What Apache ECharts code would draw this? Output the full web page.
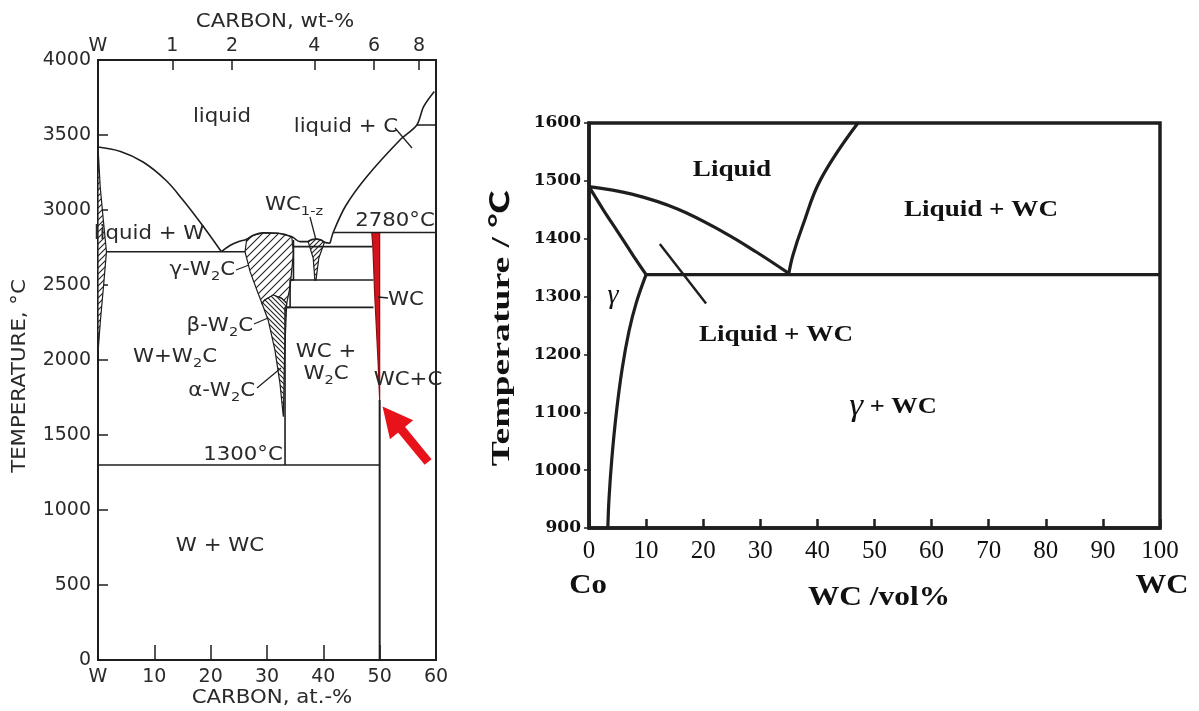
<!DOCTYPE html>
<html>
<head>
<meta charset="utf-8">
<title>W-C and Co-WC phase diagrams</title>
<script src="https://cdn.jsdelivr.net/npm/echarts@6/dist/echarts.min.js"></script>
<style>
  html, body { margin: 0; padding: 0; background: #fff; }
  #chart { width: 1199px; height: 711px; }
</style>
</head>
<body>
<div id="chart"></div>
<script>
// ---------- left: W-C diagram (x = at.-% C, y = °C) ----------
const wtLabels = ['W', '1', '2', '4', '6', '8'];
const wtTickAt = [0, 13.2, 23.8, 38.4, 49.0, 57.0]; // at.-% position of each wt-% tick

const wLiquidus = [[0, 3420], [4, 3390], [8, 3320], [12, 3200], [15, 3070], [18.5, 2900], [21.9, 2722]];
const eutecticW = [[1.5, 2722], [26.1, 2722]];
const w2cDome = [[21.9, 2722], [23.5, 2765], [25, 2790], [26.4, 2805], [27.5, 2830], [29.3, 2848], [32, 2845], [34.4, 2822], [35.9, 2789], [37.3, 2789]];
const wc1zDome = [[37.3, 2789], [38, 2803], [38.8, 2806], [39.6, 2800], [40.2, 2785], [41.2, 2778]];
const cLiquidus = [[41.2, 2778], [41.8, 2855], [44, 3030], [47.7, 3222], [53.6, 3467], [56.6, 3567], [57.8, 3689], [59.7, 3790]];
const line2780 = [[41.8, 2850], [60, 2850]];
const line3567 = [[56.6, 3567], [60, 3567]];
const boxSteps = [[34.7, 2800], [34.7, 2533], [34.1, 2533], [34.1, 2351], [33.2, 2351], [33.2, 1300]];
const box2756 = [[34.7, 2756], [48.7, 2756]];
const box2533 = [[34.1, 2533], [48.9, 2533]];
const box2351 = [[33.2, 2351], [48.9, 2351]];
const line1300 = [[0, 1300], [50, 1300]];
const wcLine = [[50, 0], [50, 1733]];

const wSolid = [[0, 3420], [0.4, 3150], [0.9, 2950], [1.5, 2722], [1.0, 2500], [0.4, 2250], [0, 2050]];
const w2cGamma = [[26.1, 2722], [26.4, 2805], [27.5, 2830], [29.3, 2848], [32, 2845], [34.4, 2822], [34.7, 2711], [34.1, 2489], [33.5, 2378], [32.6, 2411], [31.1, 2433], [29.6, 2400], [29.1, 2378], [28.2, 2467], [27.0, 2589]];
const w2cBeta = [[29.1, 2378], [29.6, 2400], [31.1, 2433], [32.6, 2411], [33.5, 2378], [33.3, 2200], [33.1, 2000], [33.0, 1800], [32.9, 1622], [32.3, 1844], [31.4, 2067], [30.2, 2267]];
const wc1zRegion = [[37.3, 2789], [38, 2803], [38.8, 2806], [39.6, 2800], [40.2, 2785], [39.2, 2680], [38.7, 2533], [38.5, 2533], [38.2, 2680]];
const wcRegion = [[48.6, 2850], [50, 2850], [50, 1733], [49.7, 2000], [49.1, 2450], [48.8, 2750]];
const arrowPath = [[58.6, 1320], [52.2, 1613]];

// ---------- right: Co-WC diagram (x = vol.-% WC, y = °C) ----------
const coLiquidus = [[0, 1490], [7.5, 1477], [15.6, 1451], [23.6, 1411], [29.3, 1377], [35, 1340]];
const wcLiquidus = [[35, 1340], [35.7, 1371], [37.4, 1422], [40.6, 1503], [47.1, 1600]];
const gammaSolidus = [[0, 1490], [2.5, 1450], [5.1, 1411], [7.8, 1370], [10, 1338]];
const gammaSolvus = [[10, 1338], [8.3, 1290], [7.0, 1240], [5.8, 1175], [4.8, 1100], [4.0, 1020], [3.5, 950], [3.3, 900]];
const eutecticCo = [[10, 1338], [100, 1338]];
const leader = [[12.4, 1391], [20.5, 1288]];

const INK = '#1e1e1e';
const sansL = 'DejaVu Sans';
const serifR = 'Liberation Serif';

function hatch(step, back) {
  const c = document.createElement('canvas');
  c.width = c.height = step;
  const g = c.getContext('2d');
  g.fillStyle = '#fff';
  g.fillRect(0, 0, step, step);
  g.strokeStyle = '#222';
  g.lineWidth = 1.1;
  g.beginPath();
  if (!back) {
    g.moveTo(-1, step + 1); g.lineTo(step + 1, -1);
    g.moveTo(-1, 1); g.lineTo(1, -1);
    g.moveTo(step - 1, step + 1); g.lineTo(step + 1, step - 1);
  } else {
    g.moveTo(-1, -1); g.lineTo(step + 1, step + 1);
    g.moveTo(step - 1, -1); g.lineTo(step + 1, 1);
    g.moveTo(-1, step - 1); g.lineTo(1, step + 1);
  }
  g.stroke();
  return { image: c, repeat: 'repeat' };
}

function area(points, fill, stroke, xi, yi) {
  return {
    type: 'custom', xAxisIndex: xi, yAxisIndex: yi, silent: true, z: 2,
    data: [points[0]],
    renderItem: (params, api) => ({
      type: 'polygon',
      shape: { points: points.map(p => api.coord(p)) },
      style: { fill: fill, stroke: stroke, lineWidth: 1.2 }
    })
  };
}

function path(data, xi, yi, width, smooth) {
  return {
    type: 'line', xAxisIndex: xi, yAxisIndex: yi, data: data,
    showSymbol: false, silent: true, z: 3, smooth: smooth || false,
    lineStyle: { color: INK, width: width }
  };
}

// text helpers for the annotations
function lt(x, y, text, align) {
  return {
    type: 'text', x: x, y: y, z: 10, scaleX: 1.12,
    style: {
      text: text, fill: '#2a2a2a', align: align || 'center', verticalAlign: 'middle',
      rich: {
        a: { fontFamily: sansL, fontSize: 19, lineHeight: 26, verticalAlign: 'middle', fill: '#2a2a2a' },
        s: { fontFamily: sansL, fontSize: 13, lineHeight: 14, verticalAlign: 'bottom', fill: '#2a2a2a' }
      }
    }
  };
}
function rt(x, y, text, size, sx, rot) {
  return {
    type: 'text', x: x, y: y, z: 10, scaleX: sx || 1, rotation: rot || 0,
    style: {
      text: text, fill: '#111', align: 'center', verticalAlign: 'middle',
      rich: {
        b: { fontFamily: serifR + ', Noto Sans CJK SC', fontWeight: 'bold', fontSize: size, fill: '#111' },
        g: { fontFamily: serifR, fontStyle: 'italic', fontSize: size + 8, fill: '#111' }
      }
    }
  };
}
function seg(x1, y1, x2, y2) {
  return { type: 'line', z: 10, shape: { x1: x1, y1: y1, x2: x2, y2: y2 }, style: { stroke: '#222', lineWidth: 1.3 } };
}

const chart = echarts.init(document.getElementById('chart'));

const leftLabel = { fontFamily: sansL, fontSize: 19, color: '#2a2a2a' };
const rightTick = { fontFamily: serifR, fontSize: 25, color: '#111' };

const option = {
  animation: false,
  backgroundColor: '#fff',
  grid: [
    { left: 98, top: 60, width: 338, height: 600, show: true, borderColor: INK, borderWidth: 2 },
    { left: 589, top: 123, width: 571, height: 405, show: true, borderColor: INK, borderWidth: 3.5 }
  ],
  xAxis: [
    {
      gridIndex: 0, type: 'value', min: 0, max: 60, interval: 10, position: 'bottom',
      axisLine: { lineStyle: { color: INK, width: 2 } },
      axisTick: { inside: true, length: 15, lineStyle: { color: INK, width: 1.5 } },
      axisLabel: Object.assign({ margin: 8, formatter: v => (v === 0 ? 'W' : String(v)) }, leftLabel),
      splitLine: { show: false }
    },
    {
      gridIndex: 0, type: 'value', min: 0, max: 60, position: 'top',
      axisLine: { lineStyle: { color: INK, width: 2 } },
      axisTick: { inside: true, length: 10, customValues: wtTickAt.slice(1), lineStyle: { color: INK, width: 1.5 } },
      axisLabel: Object.assign({
        margin: 4, customValues: wtTickAt,
        formatter: v => wtLabels[wtTickAt.indexOf(v)]
      }, leftLabel),
      splitLine: { show: false }
    },
    {
      gridIndex: 1, type: 'value', min: 0, max: 100, interval: 10,
      axisLine: { lineStyle: { color: INK, width: 3.5 } },
      axisTick: { inside: true, length: 9, lineStyle: { color: INK, width: 2.5 } },
      axisLabel: Object.assign({ margin: 11, showMinLabel: true, showMaxLabel: true, formatter: v => String(v) }, rightTick),
      splitLine: { show: false }
    }
  ],
  yAxis: [
    {
      gridIndex: 0, type: 'value', min: 0, max: 4000, interval: 500,
      axisLine: { lineStyle: { color: INK, width: 2 } },
      axisTick: { inside: true, length: 10, lineStyle: { color: INK, width: 1.5 } },
      axisLabel: Object.assign({ margin: 7, formatter: v => String(v) }, leftLabel),
      splitLine: { show: false }
    },
    {
      gridIndex: 1, type: 'value', min: 900, max: 1600, interval: 100,
      axisLine: { lineStyle: { color: INK, width: 3.5 } },
      axisTick: { length: 5, lineStyle: { color: INK, width: 1.5 } },
      axisLabel: { margin: 8, fontFamily: 'DejaVu Serif', fontWeight: 'bold', fontSize: 17, color: '#111', formatter: v => String(v) },
      splitLine: { show: false }
    }
  ],
  series: [
    // left diagram regions
    area(wSolid, hatch(6, false), INK, 0, 0),
    area(w2cGamma, hatch(8, false), INK, 0, 0),
    area(w2cBeta, hatch(5, true), INK, 0, 0),
    area(wc1zRegion, hatch(5, false), INK, 0, 0),
    area(wcRegion, '#d3131c', '#8a0e12', 0, 0),
    // left diagram lines
    path(wLiquidus, 0, 0, 1.6, 0.4),
    path(eutecticW, 0, 0, 1.6),
    path(w2cDome, 0, 0, 1.6, 0.4),
    path(wc1zDome, 0, 0, 1.6, 0.4),
    path(cLiquidus, 0, 0, 1.6, 0.3),
    path(line2780, 0, 0, 1.6),
    path(line3567, 0, 0, 1.6),
    path(boxSteps, 0, 0, 1.6),
    path(box2756, 0, 0, 1.6),
    path(box2533, 0, 0, 1.6),
    path(box2351, 0, 0, 1.6),
    path(line1300, 0, 0, 1.6),
    path(wcLine, 0, 0, 2),
    {
      type: 'lines', coordinateSystem: 'cartesian2d', xAxisIndex: 0, yAxisIndex: 0, z: 5,
      symbol: ['none', 'triangle'], symbolSize: 30, silent: true,
      lineStyle: { color: '#e8121b', width: 9, opacity: 1 },
      data: [{ coords: arrowPath }]
    },
    // right diagram lines
    path(coLiquidus, 2, 1, 3.2, 0.4),
    path(wcLiquidus, 2, 1, 3.2, 0.4),
    path(gammaSolidus, 2, 1, 3.2, 0.3),
    path(gammaSolvus, 2, 1, 3.2, 0.4),
    path(eutecticCo, 2, 1, 3.2),
    path(leader, 2, 1, 2.4)
  ],
  graphic: [
    // left diagram text
    lt(275, 22, '{a|CARBON, wt-%}'),
    lt(272, 698, '{a|CARBON, at.-%}'),
    Object.assign(lt(20, 376, '{a|TEMPERATURE, °C}'), { rotation: Math.PI / 2 }),
    lt(222, 117, '{a|liquid}'),
    lt(346, 127, '{a|liquid + C}'),
    lt(294, 205, '{a|WC}{s|1-z}'),
    lt(395, 221, '{a|2780°C}'),
    lt(149, 234, '{a|liquid + W}'),
    lt(235, 270, '{a|γ-W}{s|2}{a|C}', 'right'),
    lt(253, 326, '{a|β-W}{s|2}{a|C}', 'right'),
    lt(175, 357, '{a|W+W}{s|2}{a|C}'),
    lt(255, 391, '{a|α-W}{s|2}{a|C}', 'right'),
    lt(326, 352, '{a|WC +}'),
    lt(326, 374, '{a|W}{s|2}{a|C}'),
    lt(388, 300, '{a|WC}', 'left'),
    lt(408, 380, '{a|WC+C}'),
    lt(243, 455, '{a|1300°C}'),
    lt(220, 546, '{a|W + WC}'),
    seg(395, 128, 412, 148),
    seg(310, 217, 316, 240),
    seg(236, 270, 249, 265),
    seg(254, 324, 268, 318),
    seg(257, 388, 281, 368),
    seg(378, 297, 388, 298),
    // right diagram text
    rt(502, 328, '{b|Temperature / ℃}', 26, 1.45, Math.PI / 2),
    rt(732, 170, '{b|Liquid}', 24, 1.13),
    rt(981, 210, '{b|Liquid + WC}', 24, 1.13),
    rt(776, 335, '{b|Liquid + WC}', 24, 1.13),
    rt(613, 296, '{g|γ}', 20, 1),
    rt(893, 407, '{g|γ}{b| + WC}', 24, 1.1),
    rt(588, 586, '{b|Co}', 28, 1.1),
    rt(1162, 586, '{b|WC}', 28, 1.1),
    rt(879, 598, '{b|WC /vol%}', 28, 1.12)
  ]
};

chart.setOption(option);
</script>
</body>
</html>
